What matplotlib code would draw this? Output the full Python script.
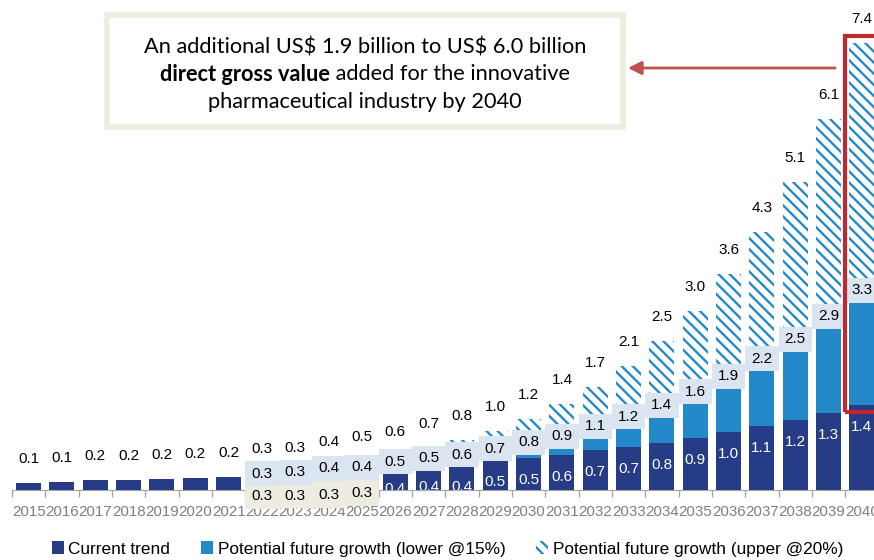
import matplotlib
matplotlib.use("Agg")
import matplotlib.pyplot as plt
from matplotlib.patches import Patch, Rectangle
import numpy as np

years = [str(y) for y in range(2015, 2041)]
current = [0.12, 0.13, 0.16, 0.17, 0.18, 0.20, 0.22, 0.26, 0.27, 0.28, 0.31, 0.38, 0.41, 0.42,
           0.49, 0.53, 0.58, 0.66, 0.72, 0.78, 0.86, 0.96, 1.06, 1.16, 1.27, 1.40]
lower_total = [0.12, 0.13, 0.16, 0.17, 0.18, 0.20, 0.22, 0.27, 0.29, 0.36, 0.38, 0.47, 0.53,
               0.58, 0.68, 0.79, 0.89, 1.06, 1.21, 1.40, 1.63, 1.88, 2.17, 2.50, 2.88, 3.31]
upper_total = [0.12, 0.13, 0.16, 0.17, 0.18, 0.20, 0.22, 0.28, 0.30, 0.40, 0.48, 0.57, 0.69,
               0.82, 0.98, 1.18, 1.42, 1.70, 2.06, 2.46, 2.96, 3.57, 4.28, 5.10, 6.14, 7.40]
projection_start = 2022
series_names = ["Current trend", "Potential future growth (lower @15%)",
                "Potential future growth (upper @20%)"]
callout_lines = [r"An additional US\$ 1.9 billion to US\$ 6.0 billion",
                 ("direct gross value", " added for the innovative"),
                 "pharmaceutical industry by 2040"]

NAVY = "#263c87"
BLUE = "#2389c9"
LABEL_BG = "#dbe5f1"
BEIGE = "#eeece1"
RED = "#c1272d"
ARROW = "#c0504d"

plt.rcParams['hatch.linewidth'] = 1.7
plt.rcParams['font.family'] = ['Liberation Sans', 'DejaVu Sans']

W, H = 874, 560
fig = plt.figure(figsize=(W / 100, H / 100), dpi=100)
AX_H_PX = 483
YMAX = 8
ax = fig.add_axes([12 / W, 1 - 490 / H, 26 * 33.33 / W, AX_H_PX / H])
px = YMAX / AX_H_PX  # data units per pixel

x = np.arange(len(years))
cur = np.array(current)
low = np.array(lower_total)
up = np.array(upper_total)
bw = 0.75
HATCH = "\\\\\\"

ax.bar(x, cur, width=bw, color=NAVY, zorder=1)
ax.bar(x, low - cur, bottom=cur, width=bw, color=BLUE, zorder=1)
ax.bar(x, up - low, bottom=low, width=bw, facecolor="white", edgecolor=BLUE,
       hatch=HATCH, linewidth=0, zorder=1)

ax.set_xlim(-0.5, len(years) - 0.5)
ax.set_ylim(0, YMAX)
for s in ["top", "right", "left"]:
    ax.spines[s].set_visible(False)
ax.spines["bottom"].set_color("#a6a6a6")
ax.spines["bottom"].set_zorder(0.5)
ax.set_yticks([])
ax.set_xticks(x)
ax.set_xticklabels(years, fontsize=10.9, color="#7f7f7f")
ax.tick_params(axis="x", which="major", length=0, pad=11)
ax.set_xticks(np.arange(-0.5, len(years) + 0.5, 1), minor=True)
ax.tick_params(axis="x", which="minor", length=5, color="#a6a6a6", width=1)

proj = [i for i, y in enumerate(years) if int(y) >= projection_start]
box_h = 25 * px
top_off = 24 * px
inside_off = 22 * px
LFS = 11

# bottom labels (current trend)
for i in proj:
    yl = cur[i] - inside_off
    if cur[i] < 0.35:
        b0 = yl - box_h / 2
        ax.add_patch(Rectangle((i - 0.5, b0), 1.0, cur[i] - b0, facecolor=BEIGE,
                               edgecolor="none", zorder=3, clip_on=False))
        ax.text(i, yl, f"{cur[i]:.1f}", ha="center", va="center", fontsize=LFS,
                color="black", zorder=3.5, clip_on=False)
    else:
        ax.text(i, yl, f"{cur[i]:.1f}", ha="center", va="center", fontsize=LFS,
                color="white", zorder=3.5, clip_on=True)

# middle labels (lower total)
for i in proj:
    ax.add_patch(Rectangle((i - 0.5, low[i] - box_h / 2), 1.0, box_h, facecolor=LABEL_BG,
                           edgecolor="none", zorder=4, clip_on=False))
    ax.text(i, low[i], f"{low[i]:.1f}", ha="center", va="center", fontsize=LFS,
            color="black", zorder=4.5)

# top labels (upper total)
for i in range(len(years)):
    ax.text(i, up[i] + top_off, f"{up[i]:.1f}", ha="center", va="center", fontsize=LFS,
            color="black", zorder=4.5, clip_on=False)

# red highlight box around last bar growth
last = len(years) - 1
ax.add_patch(Rectangle((last - 0.5, cur[last] - 0.1), 1.2, up[last] - cur[last] + 0.22,
                       fill=False, edgecolor=RED, linewidth=3, zorder=5, clip_on=False))

# legend
handles = [Patch(facecolor=NAVY), Patch(facecolor=BLUE),
           Patch(facecolor="white", edgecolor=BLUE, hatch=HATCH, linewidth=0)]
ax.legend(handles, series_names, loc="center", bbox_to_anchor=(0.512, 11 / H),
          bbox_transform=fig.transFigure, ncol=3, frameon=False, fontsize=12.4,
          handlelength=0.7, handleheight=0.7, handletextpad=0.25, columnspacing=1.8)

# callout box
fig.patches.append(Rectangle((107 / W, 1 - 127 / H), (623 - 107) / W, (127 - 15) / H,
                             transform=fig.transFigure, facecolor="white", edgecolor=BEIGE,
                             linewidth=4, zorder=6))
cx = 365 / W
cfont = ['Lato', 'DejaVu Sans']
fs = 15.7
fig.text(cx, 1 - 47 / H, callout_lines[0], ha="center", va="center", fontsize=fs,
         family=cfont, zorder=7)
fig.text(cx, 1 - 102 / H, callout_lines[2], ha="center", va="center", fontsize=fs,
         family=cfont, zorder=7)
r = fig.canvas.get_renderer()
tb = fig.text(0, 1 - 74.5 / H, callout_lines[1][0], ha="left", va="center", fontsize=fs,
              family=cfont, fontweight="bold", zorder=7)
tr = fig.text(0, 1 - 74.5 / H, callout_lines[1][1], ha="left", va="center", fontsize=fs,
              family=cfont, zorder=7)
wb = tb.get_window_extent(r).width
wr = tr.get_window_extent(r).width
start = 365 - (wb + wr) / 2
tb.set_x(start / W)
tr.set_x((start + wb) / W)

# arrow
ax.annotate("", xy=(628 / W, 1 - 68 / H), xycoords="figure fraction",
            xytext=(835 / W, 1 - 68 / H), textcoords="figure fraction",
            arrowprops=dict(arrowstyle="-|>", color=ARROW, lw=2, mutation_scale=20,
                            shrinkA=0, shrinkB=0), zorder=8)

fig.savefig("out.png", dpi=100)
